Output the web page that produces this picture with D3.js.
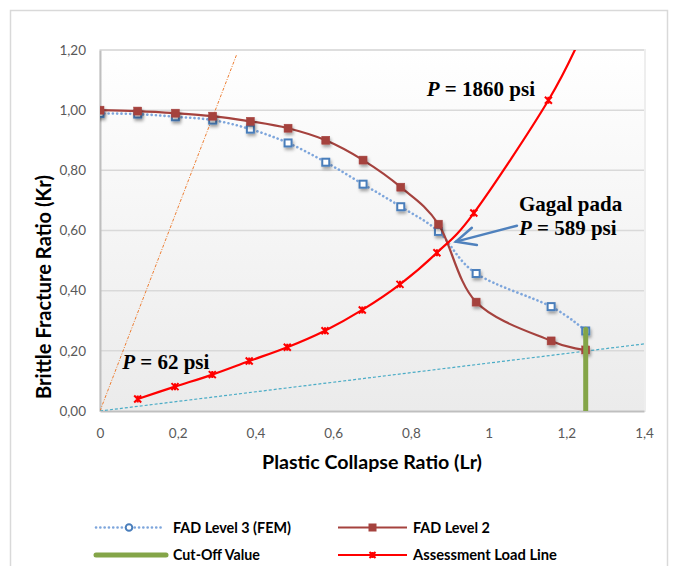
<!DOCTYPE html>
<html><head><meta charset="utf-8">
<script src="https://cdn.jsdelivr.net/npm/d3@7"></script>
<style>body{margin:0;background:#fff}</style>
</head><body><svg id="chart" width="673" height="566"></svg>
<script>
// ---------- data ----------
const fadLr   = [0, 0.097, 0.194, 0.290, 0.387, 0.484, 0.581, 0.677, 0.774, 0.871, 0.968, 1.161, 1.25];
const fad3Kr  = [0.989, 0.987, 0.978, 0.967, 0.937, 0.891, 0.827, 0.754, 0.679, 0.597, 0.457, 0.347, 0.266];
const fad2Kr  = [1.000, 0.997, 0.990, 0.980, 0.963, 0.940, 0.900, 0.834, 0.744, 0.621, 0.362, 0.233, 0.203];
const loadLr  = [0.097, 0.193, 0.289, 0.384, 0.482, 0.579, 0.675, 0.772, 0.867, 0.962, 1.154, 1.25];
const loadKr  = [0.040, 0.081, 0.121, 0.166, 0.212, 0.267, 0.336, 0.421, 0.526, 0.658, 1.033, 1.28];
const cutOffLr = [1.25, 1.25];
const cutOffKr = [0, 0.272];
const steepLr = [0, 0.352];
const steepKr = [0, 1.186];
const shallowLr = [0, 1.4];
const shallowKr = [0, 0.223];
const xTicks = [0, 0.2, 0.4, 0.6, 0.8, 1.0, 1.2, 1.4];
const yTicks = [0, 0.2, 0.4, 0.6, 0.8, 1.0, 1.2];
const xTitle = "Plastic Collapse Ratio (Lr)";
const yTitle = "Brittle Fracture Ratio (Kr)";
const legendNames = ["FAD Level 3 (FEM)", "FAD Level 2", "Cut-Off Value", "Assessment Load Line"];
const notes = [
  {lr: 0.841, kr: 1.048, italic: "P", rest: " = 1860 psi"},
  {lr: 1.078, kr: 0.666, plain: "Gagal pada"},
  {lr: 1.078, kr: 0.585, italic: "P", rest: " = 589 psi"},
  {lr: 0.057, kr: 0.140, italic: "P", rest: " = 62 psi"}
];
const arrowLine = {from: [1.073, 0.616], to: [0.916, 0.563], arm1: [0.957, 0.609], arm2: [0.970, 0.552]};

// ---------- setup ----------
const svg = d3.select("#chart");
const x = d3.scaleLinear().domain([0, 1.4]).range([100, 644]);
const y = d3.scaleLinear().domain([0, 1.2]).range([411, 50]);
const loc = d3.formatLocale({decimal: ",", thousands: ".", grouping: [3], currency: ["", ""]});
const fy = loc.format(".2f");
const fx = v => (Math.round(v * 10) / 10).toString().replace(".", ",");

const defs = svg.append("defs");
const grad = defs.append("linearGradient").attr("id", "bg").attr("x1", 0).attr("y1", 0).attr("x2", 0).attr("y2", 1);
grad.append("stop").attr("offset", "0%").attr("stop-color", "#ffffff");
grad.append("stop").attr("offset", "100%").attr("stop-color", "#ebebeb");
const sh = defs.append("filter").attr("id", "shadow").attr("x", "-100%").attr("y", "-100%").attr("width", "300%").attr("height", "300%");
sh.append("feDropShadow").attr("dx", 1.2).attr("dy", 2.5).attr("stdDeviation", 1.6).attr("flood-color", "#000").attr("flood-opacity", 0.35);
defs.append("clipPath").attr("id", "clip").append("rect")
  .attr("x", x(0)).attr("y", y(1.2)).attr("width", x(1.4) - x(0)).attr("height", y(0) - y(1.2));

// outer border
svg.append("rect").attr("x", 10.5).attr("y", 10.5).attr("width", 657).attr("height", 570)
  .attr("fill", "#fff").attr("stroke", "#d9d9d9").attr("stroke-width", 1.5);

// plot area
svg.append("rect").attr("x", x(0)).attr("y", y(1.2)).attr("width", x(1.4) - x(0) + 1).attr("height", y(0) - y(1.2))
  .attr("fill", "url(#bg)").attr("stroke", "#eeeeee").attr("stroke-width", 2);

// gridlines
svg.append("g").selectAll("line").data(yTicks.filter(d => d > 0)).join("line")
  .attr("x1", x(0)).attr("x2", x(1.4)).attr("y1", d => y(d)).attr("y2", d => y(d))
  .attr("stroke", "#d9d9d9").attr("stroke-width", 1.5);

// axes
const xAxis = svg.append("g").attr("transform", `translate(0,${y(0)})`)
  .call(d3.axisBottom(x).tickValues(xTicks).tickFormat(fx).tickSize(0).tickPadding(17));
const yAxis = svg.append("g").attr("transform", `translate(${x(0)},0)`)
  .call(d3.axisLeft(y).tickValues(yTicks).tickFormat(fy).tickSize(0).tickPadding(14));
[xAxis, yAxis].forEach(a => {
  a.select(".domain").attr("stroke", "#bfbfbf").attr("stroke-width", 2);
  a.selectAll("text").attr("font-family", "Lato, 'Open Sans', sans-serif").attr("font-size", 13.5).attr("fill", "#595959");
});

// titles
function fit(sel, w) {
  const cur = sel.node().getComputedTextLength();
  sel.attr("font-size", parseFloat(sel.attr("font-size")) * w / cur);
}
const xt = svg.append("text").attr("x", 372).attr("y", 469).attr("text-anchor", "middle")
  .attr("font-family", "Lato, sans-serif").attr("font-weight", "bold").attr("font-size", 17).attr("fill", "#000").text(xTitle);
fit(xt, 220);
const yt = svg.append("text").attr("transform", "translate(51,287) rotate(-90)").attr("text-anchor", "middle")
  .attr("font-family", "Lato, sans-serif").attr("font-weight", "bold").attr("font-size", 17).attr("fill", "#000").text(yTitle);
fit(yt, 224);

// plotting layer
const plot = svg.append("g").attr("clip-path", "url(#clip)");

// reference lines
plot.append("line").attr("x1", x(steepLr[0])).attr("y1", y(steepKr[0])).attr("x2", x(steepLr[1])).attr("y2", y(steepKr[1]))
  .attr("stroke", "#ed7d31").attr("stroke-width", 1).attr("stroke-dasharray", "3,1.5,1,1.5");
plot.append("line").attr("x1", x(shallowLr[0])).attr("y1", y(shallowKr[0])).attr("x2", x(shallowLr[1])).attr("y2", y(shallowKr[1]))
  .attr("stroke", "#4bacc6").attr("stroke-width", 1.2).attr("stroke-dasharray", "3,2");

const smooth = d3.line().curve(d3.curveCatmullRom.alpha(0)).x(d => x(d[0])).y(d => y(d[1]));
const fad3 = fadLr.map((v, i) => [v, fad3Kr[i]]);
const fad2 = fadLr.map((v, i) => [v, fad2Kr[i]]);
const load = loadLr.map((v, i) => [v, loadKr[i]]);

// FAD level 3
plot.append("path").datum(fad3).attr("d", smooth).attr("fill", "none")
  .attr("stroke", "#7ea6dc").attr("stroke-width", 2.6).attr("stroke-dasharray", "0.1,4.2").attr("stroke-linecap", "round");
plot.append("g").selectAll("rect").data(fad3).join("rect")
  .attr("x", d => x(d[0]) - 3.5).attr("y", d => y(d[1]) - 3.5).attr("width", 7).attr("height", 7)
  .attr("fill", "#fff").attr("stroke", "#4a7ebb").attr("stroke-width", 2).attr("filter", "url(#shadow)");

// FAD level 2
plot.append("path").datum(fad2).attr("d", smooth).attr("fill", "none")
  .attr("stroke", "#a5423e").attr("stroke-width", 2.2);
plot.append("g").selectAll("rect").data(fad2).join("rect")
  .attr("x", d => x(d[0]) - 4).attr("y", d => y(d[1]) - 4).attr("width", 8).attr("height", 8)
  .attr("fill", "#a5423e").attr("stroke", "#a5423e").attr("stroke-width", 0.5).attr("filter", "url(#shadow)");

// Cut-off
plot.append("line").attr("x1", x(cutOffLr[0])).attr("y1", y(cutOffKr[0]) + 1).attr("x2", x(cutOffLr[1])).attr("y2", y(cutOffKr[1]))
  .attr("stroke", "#84a548").attr("stroke-width", 5).attr("stroke-linecap", "round");

// Assessment load line
const star = "M-3.5,-3.5L3.5,3.5M-3.5,3.5L3.5,-3.5M0,-3.5L0,3.5";
plot.append("path").datum(load).attr("d", smooth).attr("fill", "none")
  .attr("stroke", "#ff0000").attr("stroke-width", 2.2);
plot.append("g").selectAll("path").data(load).join("path")
  .attr("transform", d => `translate(${x(d[0])},${y(d[1])})`).attr("d", star)
  .attr("fill", "none").attr("stroke", "#ff0000").attr("stroke-width", 2);

// arrow
const ag = svg.append("g").attr("stroke", "#4f81bd").attr("stroke-width", 2.5).attr("fill", "none").attr("stroke-linecap", "round");
ag.append("line").attr("x1", x(arrowLine.from[0])).attr("y1", y(arrowLine.from[1])).attr("x2", x(arrowLine.to[0])).attr("y2", y(arrowLine.to[1]));
ag.append("path").attr("d", d3.line()([[x(arrowLine.arm1[0]), y(arrowLine.arm1[1])], [x(arrowLine.to[0]), y(arrowLine.to[1])], [x(arrowLine.arm2[0]), y(arrowLine.arm2[1])]]))
  .attr("stroke-linejoin", "miter");

// annotations
notes.forEach(n => {
  const t = svg.append("text").attr("x", x(n.lr)).attr("y", y(n.kr))
    .attr("font-family", "'Liberation Serif', 'Times New Roman', serif").attr("font-weight", "bold").attr("font-size", 21).attr("fill", "#000");
  if (n.plain) t.text(n.plain);
  else { t.append("tspan").attr("font-style", "italic").text(n.italic); t.append("tspan").text(n.rest); }
});

// legend
const lg = svg.append("g").attr("font-family", "Lato, sans-serif").attr("font-weight", "bold").attr("fill", "#000");
const rows = [[96, 162, 173, 527.5], [338, 407, 413, 527.5], [96, 166, 173, 555], [338, 407, 413, 555]];
const lwidths = [118, 77, 87, 144];
legendNames.forEach((name, i) => {
  const [a, b, tx, ty] = rows[i];
  const g = lg.append("g");
  if (i === 0) {
    g.append("line").attr("x1", a).attr("x2", b).attr("y1", ty).attr("y2", ty).attr("stroke", "#7ea6dc").attr("stroke-width", 2.6).attr("stroke-dasharray", "0.1,4.2").attr("stroke-linecap", "round");
    g.append("circle").attr("cx", (a + b) / 2).attr("cy", ty).attr("r", 3.3).attr("fill", "#fff").attr("stroke", "#4a7ebb").attr("stroke-width", 2);
  } else if (i === 1) {
    g.append("line").attr("x1", a).attr("x2", b).attr("y1", ty).attr("y2", ty).attr("stroke", "#a5423e").attr("stroke-width", 2.2);
    g.append("rect").attr("x", (a + b) / 2 - 4).attr("y", ty - 4).attr("width", 8).attr("height", 8).attr("fill", "#a5423e");
  } else if (i === 2) {
    g.append("line").attr("x1", a).attr("x2", b).attr("y1", ty).attr("y2", ty).attr("stroke", "#84a548").attr("stroke-width", 5).attr("stroke-linecap", "round");
  } else {
    g.append("line").attr("x1", a).attr("x2", b).attr("y1", ty).attr("y2", ty).attr("stroke", "#ff0000").attr("stroke-width", 2.2);
    g.append("path").attr("transform", `translate(${(a + b) / 2},${ty})`).attr("d", "M-3,-3L3,3M-3,3L3,-3M0,-3L0,3").attr("stroke", "#ff0000").attr("stroke-width", 2).attr("fill", "none");
  }
  const t = g.append("text").attr("x", tx).attr("y", ty).attr("dy", "0.35em").attr("font-size", 14).text(name);
  fit(t, lwidths[i]);
});
</script>
</body></html>
